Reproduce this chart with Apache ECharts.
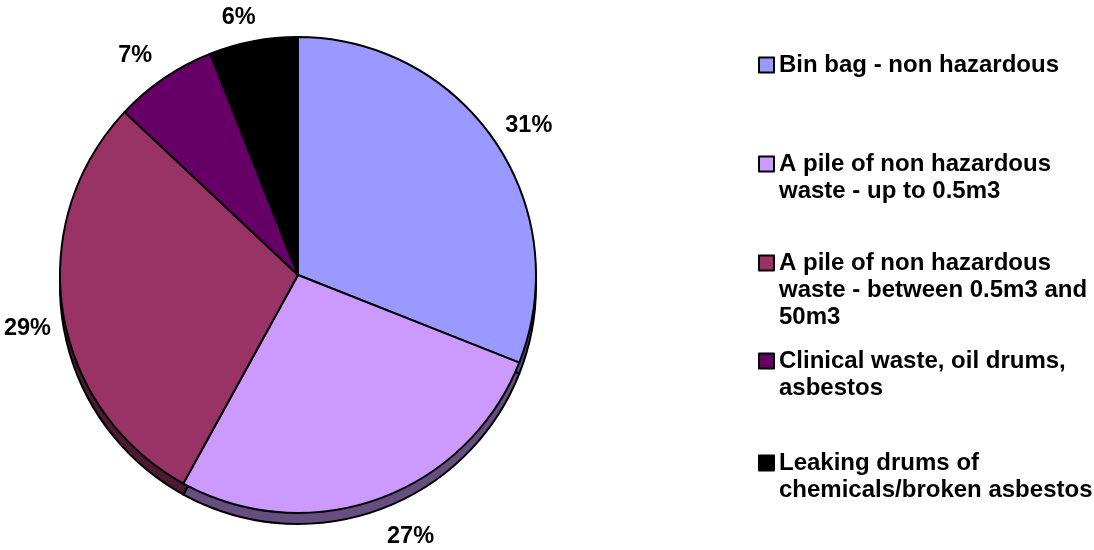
<!DOCTYPE html>
<html><head><meta charset="utf-8">
<script src="https://cdn.jsdelivr.net/npm/echarts@6/dist/echarts.min.js"></script>
<style>html,body{margin:0;padding:0;background:#fff}#c{width:1094px;height:550px}</style>
</head><body><div id="c"></div>
<script>
const categories = [
  'Bin bag - non hazardous',
  'A pile of non hazardous waste - up to 0.5m3',
  'A pile of non hazardous waste - between 0.5m3 and 50m3',
  'Clinical waste, oil drums, asbestos',
  'Leaking drums of chemicals/broken asbestos'
];
const legendText = [
  'Bin bag - non hazardous',
  'A pile of non hazardous\nwaste - up to 0.5m3',
  'A pile of non hazardous\nwaste - between 0.5m3 and\n50m3',
  'Clinical waste, oil drums,\nasbestos',
  'Leaking drums of\nchemicals/broken asbestos'
];
const values = [31, 27, 29, 7, 6];

const colors = ['#9999FF', '#CC99FF', '#993366', '#660066', '#000000'];
const sideColors = ['#4D4D80', '#664F80', '#4D1A33', '#330033', '#000000'];
const legendIconCenters = [63, 162, 261, 359, 461];
// small per-label nudges (pixels) to match the original label placement
const labelNudges = [[0, 7], [18, -1], [5, 10], [-6, 11], [-7, 17]];

const FONT = '"Liberation Sans", Arial, sans-serif';
const LH = 27;
const CX = 298, CY = 275, R = 238, DEPTH = 11, LABEL_R = 276;

const mainData = categories.map((n, i) => ({ name: n, value: values[i], itemStyle: { color: colors[i] } }));
const sideData = categories.map((n, i) => ({ name: n, value: values[i], itemStyle: { color: sideColors[i] } }));
const labelData = categories.map((n, i) => ({ name: n, value: values[i] }));

const legends = categories.map((n, i) => {
  const lines = legendText[i].split('\n').length;
  const boxTop = legendIconCenters[i] - (2 * lines - 1) * LH / 2;
  return {
    orient: 'vertical',
    left: 753,
    top: boxTop - 3,
    data: [{ name: n, icon: 'rect' }],
    itemWidth: 15, itemHeight: 15,
    itemStyle: { borderColor: '#000', borderWidth: 2 },
    selectedMode: false,
    formatter: (name) => {
      const k = categories.indexOf(name);
      const t = legendText[k];
      return '\n'.repeat(t.split('\n').length - 1) + t;
    },
    textStyle: {
      fontFamily: FONT, fontWeight: 'bold', fontSize: 24, color: '#000',
      lineHeight: LH
    }
  };
});

const chart = echarts.init(document.getElementById('c'));
chart.setOption({
  backgroundColor: '#fff',
  animation: false,
  legend: legends,
  series: [
    {
      type: 'pie', name: 'main', z: 3,
      center: [CX, CY], radius: [0, R],
      startAngle: 90, clockwise: true,
      avoidLabelOverlap: false,
      itemStyle: { borderColor: '#000', borderWidth: 2 },
      label: { show: false }, labelLine: { show: false },
      emphasis: { disabled: true },
      data: mainData
    },
    {
      type: 'pie', name: 'side', z: 2, silent: true,
      center: [CX, CY + DEPTH], radius: [0, R],
      startAngle: 90, clockwise: true,
      itemStyle: { borderColor: '#000', borderWidth: 2 },
      label: { show: false }, labelLine: { show: false },
      emphasis: { disabled: true },
      data: sideData
    },
    {
      type: 'pie', name: 'labels', z: 4, silent: true,
      center: [CX, CY], radius: [R, 2 * LABEL_R - R],
      startAngle: 90, clockwise: true,
      avoidLabelOverlap: false,
      percentPrecision: 0,
      itemStyle: { color: 'rgba(0,0,0,0)', borderWidth: 0 },
      label: {
        show: true, position: 'inside', formatter: '{d}%',
        fontFamily: FONT, fontWeight: 'bold', fontSize: 23.5, color: '#000'
      },
      labelLayout: (p) => ({ dx: labelNudges[p.dataIndex][0], dy: labelNudges[p.dataIndex][1] }),
      labelLine: { show: false },
      emphasis: { disabled: true },
      data: labelData
    }
  ]
});
</script></body></html>
